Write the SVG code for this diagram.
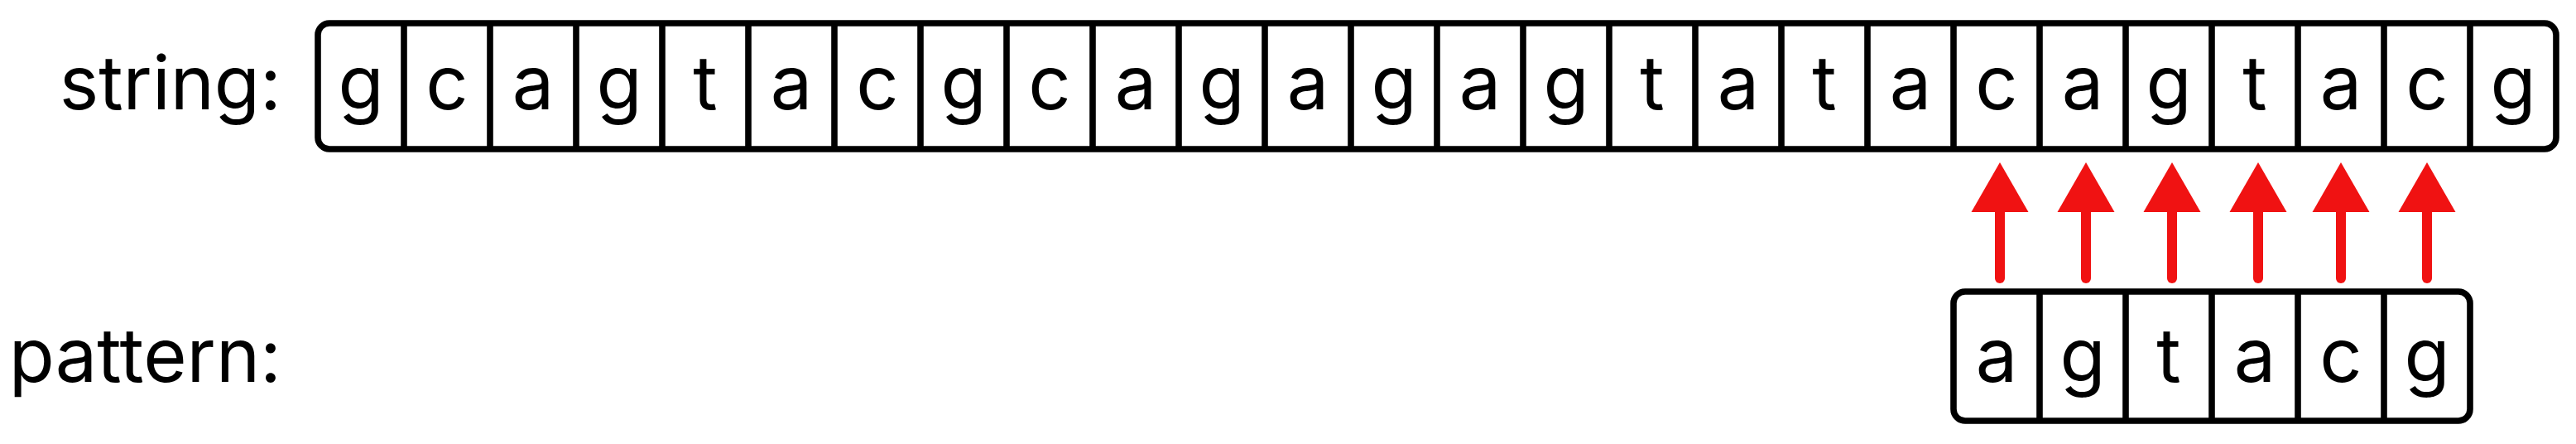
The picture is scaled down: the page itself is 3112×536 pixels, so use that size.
<svg xmlns="http://www.w3.org/2000/svg" width="3112" height="536" viewBox="0 0 3112 536">
  <style>
    .lbl { font-family: Inter, "Liberation Sans", Arial, sans-serif; font-size: 90px; fill: #000; }
    .ch { font-family: Inter, "Liberation Sans", Arial, sans-serif; font-size: 90px; fill: #000; text-anchor: middle; }
    .box { fill: #fff; stroke: #000; stroke-width: 7.6; }
    .div { stroke: #000; stroke-width: 7.6; }
    .arr { stroke: #f01212; stroke-width: 12; stroke-linecap: round; fill: none; marker-end: url(#head); }
  </style>
  <defs>
    <marker id="head" markerUnits="userSpaceOnUse" markerWidth="60" markerHeight="70" viewBox="0 0 60 70" refX="0" refY="35" orient="auto">
      <path d="M0,0.5 L60,35 L0,69.5 Z" fill="#f01212"/>
    </marker>
  </defs>
  <rect width="3112" height="536" fill="#fff"/>

  <g id="string-label">
    <text class="lbl" x="340" y="132" text-anchor="end">string:</text>
  </g>

  <g id="string-array">
    <rect class="box" x="384" y="28" width="2704" height="152" rx="14" ry="14"/>
    <g class="dividers">
      <line class="div" x1="488" y1="28" x2="488" y2="180"/>
      <line class="div" x1="592" y1="28" x2="592" y2="180"/>
      <line class="div" x1="696" y1="28" x2="696" y2="180"/>
      <line class="div" x1="800" y1="28" x2="800" y2="180"/>
      <line class="div" x1="904" y1="28" x2="904" y2="180"/>
      <line class="div" x1="1008" y1="28" x2="1008" y2="180"/>
      <line class="div" x1="1112" y1="28" x2="1112" y2="180"/>
      <line class="div" x1="1216" y1="28" x2="1216" y2="180"/>
      <line class="div" x1="1320" y1="28" x2="1320" y2="180"/>
      <line class="div" x1="1424" y1="28" x2="1424" y2="180"/>
      <line class="div" x1="1528" y1="28" x2="1528" y2="180"/>
      <line class="div" x1="1632" y1="28" x2="1632" y2="180"/>
      <line class="div" x1="1736" y1="28" x2="1736" y2="180"/>
      <line class="div" x1="1840" y1="28" x2="1840" y2="180"/>
      <line class="div" x1="1944" y1="28" x2="1944" y2="180"/>
      <line class="div" x1="2048" y1="28" x2="2048" y2="180"/>
      <line class="div" x1="2152" y1="28" x2="2152" y2="180"/>
      <line class="div" x1="2256" y1="28" x2="2256" y2="180"/>
      <line class="div" x1="2360" y1="28" x2="2360" y2="180"/>
      <line class="div" x1="2464" y1="28" x2="2464" y2="180"/>
      <line class="div" x1="2568" y1="28" x2="2568" y2="180"/>
      <line class="div" x1="2672" y1="28" x2="2672" y2="180"/>
      <line class="div" x1="2776" y1="28" x2="2776" y2="180"/>
      <line class="div" x1="2880" y1="28" x2="2880" y2="180"/>
      <line class="div" x1="2984" y1="28" x2="2984" y2="180"/>
    </g>
    <g class="chars">
      <text class="ch" x="436" y="132">g</text>
      <text class="ch" x="540" y="132">c</text>
      <text class="ch" x="644" y="132">a</text>
      <text class="ch" x="748" y="132">g</text>
      <text class="ch" x="852" y="132">t</text>
      <text class="ch" x="956" y="132">a</text>
      <text class="ch" x="1060" y="132">c</text>
      <text class="ch" x="1164" y="132">g</text>
      <text class="ch" x="1268" y="132">c</text>
      <text class="ch" x="1372" y="132">a</text>
      <text class="ch" x="1476" y="132">g</text>
      <text class="ch" x="1580" y="132">a</text>
      <text class="ch" x="1684" y="132">g</text>
      <text class="ch" x="1788" y="132">a</text>
      <text class="ch" x="1892" y="132">g</text>
      <text class="ch" x="1996" y="132">t</text>
      <text class="ch" x="2100" y="132">a</text>
      <text class="ch" x="2204" y="132">t</text>
      <text class="ch" x="2308" y="132">a</text>
      <text class="ch" x="2412" y="132">c</text>
      <text class="ch" x="2516" y="132">a</text>
      <text class="ch" x="2620" y="132">g</text>
      <text class="ch" x="2724" y="132">t</text>
      <text class="ch" x="2828" y="132">a</text>
      <text class="ch" x="2932" y="132">c</text>
      <text class="ch" x="3036" y="132">g</text>
    </g>
  </g>

  <g id="pattern-label">
    <text class="lbl" x="340" y="461" text-anchor="end">pattern:</text>
  </g>

  <g id="pattern-array">
    <rect class="box" x="2360" y="352" width="624" height="156" rx="14" ry="14"/>
    <g class="dividers">
      <line class="div" x1="2464" y1="352" x2="2464" y2="508"/>
      <line class="div" x1="2568" y1="352" x2="2568" y2="508"/>
      <line class="div" x1="2672" y1="352" x2="2672" y2="508"/>
      <line class="div" x1="2776" y1="352" x2="2776" y2="508"/>
      <line class="div" x1="2880" y1="352" x2="2880" y2="508"/>
    </g>
    <g class="chars">
      <text class="ch" x="2412" y="461">a</text>
      <text class="ch" x="2516" y="461">g</text>
      <text class="ch" x="2620" y="461">t</text>
      <text class="ch" x="2724" y="461">a</text>
      <text class="ch" x="2828" y="461">c</text>
      <text class="ch" x="2932" y="461">g</text>
    </g>
  </g>

  <g id="connectors">
    <line class="arr" x1="2416" y1="336" x2="2416" y2="256"/>
    <line class="arr" x1="2520" y1="336" x2="2520" y2="256"/>
    <line class="arr" x1="2624" y1="336" x2="2624" y2="256"/>
    <line class="arr" x1="2728" y1="336" x2="2728" y2="256"/>
    <line class="arr" x1="2828" y1="336" x2="2828" y2="256"/>
    <line class="arr" x1="2932" y1="336" x2="2932" y2="256"/>
  </g>
</svg>
